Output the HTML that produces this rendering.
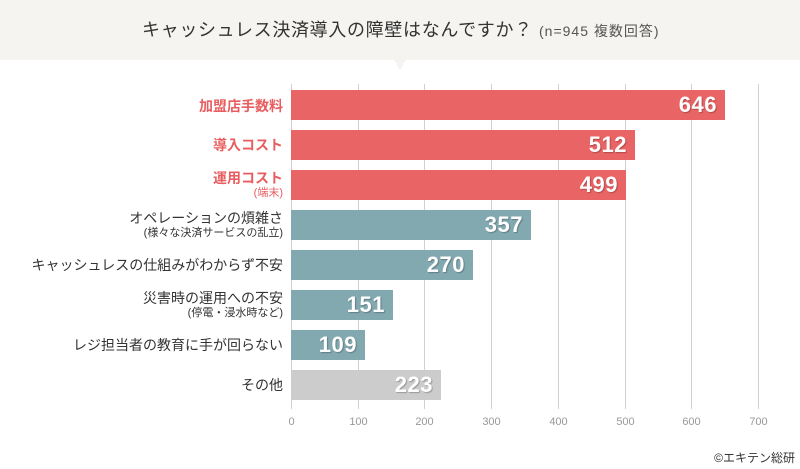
<!DOCTYPE html>
<html><head><meta charset="utf-8">
<style>
*{margin:0;padding:0;box-sizing:border-box;}
body{width:800px;height:469px;background:#fff;position:relative;overflow:hidden;font-family:"Liberation Sans","Noto Sans CJK JP",sans-serif;}
.hdr{position:absolute;left:0;top:0;width:800px;height:60px;background:#f5f4f0;}
.tri{position:absolute;left:394px;top:60px;width:0;height:0;border-left:6px solid transparent;border-right:6px solid transparent;border-top:10px solid #f5f4f0;}
.title{position:absolute;left:142px;top:18px;font-size:18px;line-height:24px;color:#333;letter-spacing:0.67px;white-space:nowrap;}
.sub{position:absolute;left:539px;top:22px;font-size:14px;line-height:18px;color:#555;letter-spacing:1px;white-space:nowrap;}
.grid{position:absolute;top:84px;width:1px;height:325px;background:#d0d0d0;}
.tick{position:absolute;top:415px;width:40px;margin-left:-20px;text-align:center;font-size:11px;line-height:14px;color:#999;}
.bar{position:absolute;left:291px;height:30px;}
.red{background:#e96464;}
.teal{background:#82a8b0;}
.gray{background:#cccccc;}
.val{position:absolute;right:8px;top:0;line-height:30px;font-size:22px;font-weight:bold;color:#fff;letter-spacing:0.5px;text-shadow:1px 1px 1px rgba(0,0,0,0.25);}
.lab{position:absolute;right:517px;text-align:right;white-space:nowrap;font-size:14px;line-height:18px;color:#333;}
.lab.r{color:#e85d5f;font-weight:bold;}
.sl{position:absolute;right:517px;text-align:right;white-space:nowrap;font-size:11px;line-height:13px;color:#333;}
.sl.r{color:#e85d5f;}
.copy{position:absolute;right:5px;top:450px;font-size:12px;line-height:16px;color:#333;white-space:nowrap;}
</style></head><body>
<div class="hdr"></div>
<div class="tri"></div>
<div class="title">キャッシュレス決済導入の障壁はなんですか？</div>
<div class="sub">(n=945 複数回答)</div>

<div class="grid" style="left:291px"></div>
<div class="grid" style="left:358px"></div>
<div class="grid" style="left:424px"></div>
<div class="grid" style="left:491px"></div>
<div class="grid" style="left:558px"></div>
<div class="grid" style="left:625px"></div>
<div class="grid" style="left:691px"></div>
<div class="grid" style="left:758px"></div>

<div class="tick" style="left:291.5px">0</div>
<div class="tick" style="left:358.5px">100</div>
<div class="tick" style="left:424.5px">200</div>
<div class="tick" style="left:491.5px">300</div>
<div class="tick" style="left:558.5px">400</div>
<div class="tick" style="left:625.5px">500</div>
<div class="tick" style="left:691.5px">600</div>
<div class="tick" style="left:758.5px">700</div>

<div class="bar red" style="top:90px;width:434px"><span class="val">646</span></div>
<div class="bar red" style="top:130px;width:344px"><span class="val">512</span></div>
<div class="bar red" style="top:170px;width:335px"><span class="val">499</span></div>
<div class="bar teal" style="top:210px;width:240px"><span class="val">357</span></div>
<div class="bar teal" style="top:250px;width:182px"><span class="val">270</span></div>
<div class="bar teal" style="top:290px;width:102px"><span class="val">151</span></div>
<div class="bar teal" style="top:330px;width:74px"><span class="val">109</span></div>
<div class="bar gray" style="top:370px;width:150px"><span class="val">223</span></div>

<div class="lab r" style="top:97px">加盟店手数料</div>
<div class="lab r" style="top:136px">導入コスト</div>
<div class="lab r" style="top:169px">運用コスト</div>
<div class="sl r" style="top:187px">(端末)</div>
<div class="lab" style="top:209px">オペレーションの煩雑さ</div>
<div class="sl" style="top:227px">(様々な決済サービスの乱立)</div>
<div class="lab" style="top:256px">キャッシュレスの仕組みがわからず不安</div>
<div class="lab" style="top:289px">災害時の運用への不安</div>
<div class="sl" style="top:307px">(停電・浸水時など)</div>
<div class="lab" style="top:336px">レジ担当者の教育に手が回らない</div>
<div class="lab" style="top:376px">その他</div>

<div class="copy">©エキテン総研</div>
</body></html>
